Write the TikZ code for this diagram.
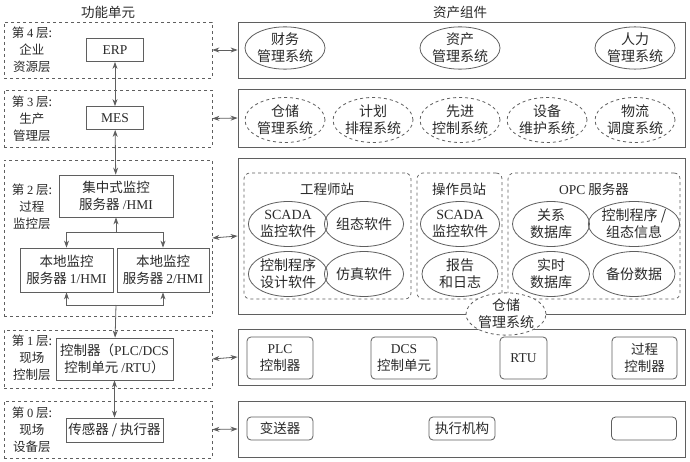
\documentclass[tikz,border=0pt]{standalone}
\usepackage{fontspec}
\newfontfamily\cjk{Noto Sans CJK SC}
\newfontfamily\lat{Liberation Serif}
\usetikzlibrary{arrows.meta,shapes.geometric}
\definecolor{linegray}{HTML}{5F5F5F}
\definecolor{textgray}{HTML}{2A2A2A}
\begin{document}
\begin{tikzpicture}[x=1pt,y=-1pt,
    every node/.style={font=\cjk\fontsize{13.5}{16.5}\selectfont, text=textgray, align=center, inner sep=0pt},
    layerbox/.style={draw=linegray, dashed, line width=0.7pt, minimum width=208pt},
    assetbox/.style={draw=linegray, line width=0.8pt, minimum width=447pt},
    unit/.style={draw=linegray, line width=0.8pt},
    sys/.style={ellipse, draw=linegray, line width=0.8pt, minimum width=77pt, minimum height=45pt, font=\cjk\fontsize{14}{17}\selectfont},
    sysdash/.style={sys, dashed},
    group/.style={draw=linegray, dashed, rounded corners=6pt, line width=0.7pt, minimum height=126pt},
    dev/.style={draw=linegray, rounded corners=4pt, line width=0.8pt, minimum width=66pt, minimum height=42pt},
    lvl/.style={font=\cjk\fontsize{12.5}{17}\selectfont},
    link/.style={linegray, line width=0.8pt, {Stealth[length=7pt,width=5pt]}-{Stealth[length=7pt,width=5pt]}},
    tip/.style={linegray, line width=0.8pt, -{Stealth[length=7pt,width=5pt]}}]
  \useasboundingbox[fill=white] (0,0) rectangle (690,462);
  \def\leftx{108}
  \def\rightx{461.5}

  % column titles
  \node (funtitle) at (\leftx,12) {功能单元};
  \node (assettitle) at (460,12) {资产组件};

  % layer boxes, left
  \node[layerbox, minimum height=56pt] (L4) at (\leftx,50) {};
  \node[layerbox, minimum height=57pt] (L3) at (\leftx,118.5) {};
  \node[layerbox, minimum height=156pt] (L2) at (\leftx,238) {};
  \node[layerbox, minimum height=58pt] (L1) at (\leftx,359) {};
  \node[layerbox, minimum height=57pt] (L0) at (\leftx,429.5) {};

  % layer labels
  \node[lvl] (lab4) at (32,50) {第 {\lat 4} 层:\\企业\\资源层};
  \node[lvl] (lab3) at (32,119) {第 {\lat 3} 层:\\生产\\管理层};
  \node[lvl] (lab2) at (32,207) {第 {\lat 2} 层:\\过程\\监控层};
  \node[lvl] (lab1) at (32,358) {第 {\lat 1} 层:\\现场\\控制层};
  \node[lvl] (lab0) at (32,430) {第 {\lat 0} 层:\\现场\\设备层};

  % function units
  \node[unit, minimum width=57pt, minimum height=23pt] (erp) at (115,50) {\lat ERP};
  \node[unit, minimum width=57pt, minimum height=23pt] (mes) at (115,118) {\lat MES};
  \node[unit, minimum width=114pt, minimum height=42pt] (central) at (116,196) {集中式监控\\服务器 {\lat /HMI}};
  \node[unit, minimum width=93pt, minimum height=44pt] (local1) at (66.5,270) {本地监控\\服务器 {\lat 1/HMI}};
  \node[unit, minimum width=92pt, minimum height=44pt] (local2) at (163,270) {本地监控\\服务器 {\lat 2/HMI}};
  \node[unit, minimum width=117pt, minimum height=42pt] (ctrl) at (114.5,359) {控制器（{\lat PLC/DCS}\\控制单元 {\lat /RTU}）};
  \node[unit, minimum width=97pt, minimum height=24pt] (sensor) at (114.5,430) {传感器 / 执行器};

  \coordinate (split) at (116,232);
  \coordinate (join) at (116,305);

  \draw[link] (erp) -- (mes);
  \draw[link] (mes) -- (central);
  \draw[tip] (split) -- (central);
  \draw[tip] (split) -| (local1);
  \draw[tip] (split) -| (local2);
  \draw[tip] (join) -| (local1);
  \draw[tip] (join) -| (local2);
  \draw[tip] (join) -- (ctrl);
  \draw[link] (ctrl) -- (sensor);

  % layer boxes, right
  \node[assetbox, minimum height=56pt] (R4) at (\rightx,50) {};
  \node[assetbox, minimum height=58pt] (R3) at (\rightx,118) {};
  \node[assetbox, minimum height=156pt] (R2) at (\rightx,236) {};
  \node[assetbox, minimum height=56pt] (R1) at (\rightx,357) {};
  \node[assetbox, minimum height=56pt] (R0) at (\rightx,429) {};

  \foreach \n in {4,3,2,1,0}
    \draw[link] (L\n.east) -- (R\n.west);

  % layer 4 assets
  \node[sys, minimum width=80pt, minimum height=38pt] (finance) at (285,48) {财务\\管理系统};
  \node[sys, minimum width=80pt, minimum height=38pt] (assets) at (460,48) {资产\\管理系统};
  \node[sys, minimum width=80pt, minimum height=38pt] (hr) at (635,48) {人力\\管理系统};

  % layer 3 assets
  \node[sysdash, minimum width=80pt] (wms) at (285,120) {仓储\\管理系统};
  \node[sysdash, minimum width=80pt] (plan) at (373,120) {计划\\排程系统};
  \node[sysdash, minimum width=80pt] (apc) at (460,120) {先进\\控制系统};
  \node[sysdash, minimum width=80pt] (maint) at (547,120) {设备\\维护系统};
  \node[sysdash, minimum width=80pt] (logis) at (635,120) {物流\\调度系统};

  % layer 2 assets
  \node[group, minimum width=167pt] (eng) at (327.5,236) {};
  \node[group, minimum width=85pt] (oper) at (459.5,236) {};
  \node[group, minimum width=172pt] (opc) at (594,236) {};
  \node (engtitle) at (327,189) {工程师站};
  \node (opertitle) at (459,189) {操作员站};
  \node (opctitle) at (594,189) {{\lat OPC} 服务器};

  \node[sys, minimum width=78pt] (scada1) at (288,224) {{\lat SCADA}\\监控软件};
  \node[sys, minimum width=71pt] (config) at (364,224) {组态软件};
  \node[sys, minimum width=78pt] (progsw) at (288,274) {控制程序\\设计软件};
  \node[sys, minimum width=71pt] (simsw) at (364,274) {仿真软件};
  \node[sys, minimum width=76pt] (scada2) at (460,224) {{\lat SCADA}\\监控软件};
  \node[sys, minimum width=76pt] (report) at (460,274) {报告\\和日志};
  \node[sys, minimum width=77pt] (reldb) at (551,224) {关系\\数据库};
  \node[sys, minimum width=82pt] (proginfo) at (634,224) {控制程序 /\\组态信息};
  \node[sys, minimum width=77pt] (rtdb) at (551,274) {实时\\数据库};
  \node[sys, minimum width=82pt] (backup) at (634,274) {备份数据};

  \node[sysdash, fill=white, minimum width=80pt, minimum height=41pt] (wms2) at (506,314) {仓储\\管理系统};

  % layer 1 assets
  \node[dev] (plc) at (280,358) {{\lat PLC}\\控制器};
  \node[dev] (dcs) at (404,358) {{\lat DCS}\\控制单元};
  \node[dev, minimum width=47pt] (rtu) at (523.5,358) {\lat RTU};
  \node[dev, minimum width=65pt] (proc) at (644.5,358) {过程\\控制器};

  % layer 0 assets
  \node[dev, minimum height=23pt] (trans) at (280,428.5) {变送器};
  \node[dev, minimum height=23pt] (actu) at (462,428.5) {执行机构};
  \node[dev, minimum width=65pt, minimum height=23pt] (field) at (644,428.5) {};
\end{tikzpicture}
\end{document}
